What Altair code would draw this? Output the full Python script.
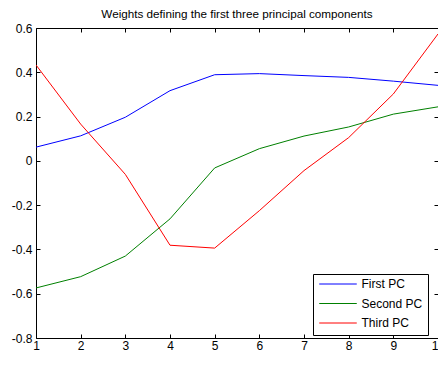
import altair as alt
import pandas as pd

x_vals = [1, 2, 3, 4, 5, 6, 7, 8, 9, 10]
first_pc = [0.062, 0.113, 0.197, 0.317, 0.389, 0.394, 0.385, 0.377, 0.360, 0.341]
second_pc = [-0.574, -0.523, -0.430, -0.262, -0.032, 0.055, 0.112, 0.153, 0.211, 0.244]
third_pc = [0.433, 0.166, -0.061, -0.381, -0.394, -0.225, -0.044, 0.105, 0.302, 0.573]
series_names = ["First PC", "Second PC", "Third PC"]
series_colors = ["#0000ff", "#008000", "#ff0000"]
x_ticks = [1, 2, 3, 4, 5, 6, 7, 8, 9, 10]
y_ticks = [-0.8, -0.6, -0.4, -0.2, 0, 0.2, 0.4, 0.6]

rows = []
for name, vals in zip(series_names, [first_pc, second_pc, third_pc]):
    for xv, yv in zip(x_vals, vals):
        rows.append({"x": xv, "y": yv, "series": name})
df = pd.DataFrame(rows)

FONT = "Liberation Sans"
xs = alt.Scale(domain=[1, 10], nice=False, zero=False)
ys = alt.Scale(domain=[-0.8, 0.6], nice=False, zero=False)

def ax(orient, values, labels=True, pad=3):
    return alt.Axis(
        orient=orient, values=values, labels=labels, title=None, grid=False,
        domain=False, ticks=True, tickSize=4, tickColor="black", tickWidth=1,
        offset=-4, labelPadding=pad, labelFont=FONT, labelFontSize=12,
        labelColor="black", labelExpr="'' + datum.value", labelFlush=False,
        labelOverlap=False,
    )

lines = alt.Chart(df).mark_line(strokeWidth=1, clip=True).encode(
    x=alt.X("x:Q", scale=xs, axis=ax("bottom", x_ticks, pad=2)),
    y=alt.Y("y:Q", scale=ys, axis=ax("left", y_ticks, pad=4)),
    color=alt.Color(
        "series:N",
        scale=alt.Scale(domain=series_names, range=series_colors),
        sort=series_names,
        legend=alt.Legend(
            title=None, orient="none", legendX=277, legendY=246,
            strokeColor="black", fillColor="white", padding=5.5,
            symbolType="stroke", symbolSize=1410, symbolStrokeWidth=1,
            clipHeight=9, rowPadding=6.5, labelFont=FONT, labelFontSize=12,
            labelColor="black", labelOffset=4,
        ),
    ),
)

frame = alt.Chart(df).mark_line(opacity=0).encode(
    x=alt.X("x:Q", scale=xs, axis=ax("top", x_ticks, labels=False)),
    y=alt.Y("y:Q", scale=ys, axis=ax("right", y_ticks, labels=False)),
)

chart = alt.layer(lines, frame).resolve_axis(x="independent", y="independent").properties(
    width=402, height=310,
    title=alt.TitleParams(
        "Weights defining the first three principal components",
        font=FONT, fontSize=11.7, fontWeight="normal", color="black",
        anchor="middle", offset=1,
    ),
    autosize=alt.AutoSizeParams(type="none"),
    padding={"left": 28, "top": 20, "right": 0, "bottom": 14},
).configure_view(stroke="black", strokeWidth=1)

chart.save("out.html", embed_options={"renderer": "svg", "actions": False})
